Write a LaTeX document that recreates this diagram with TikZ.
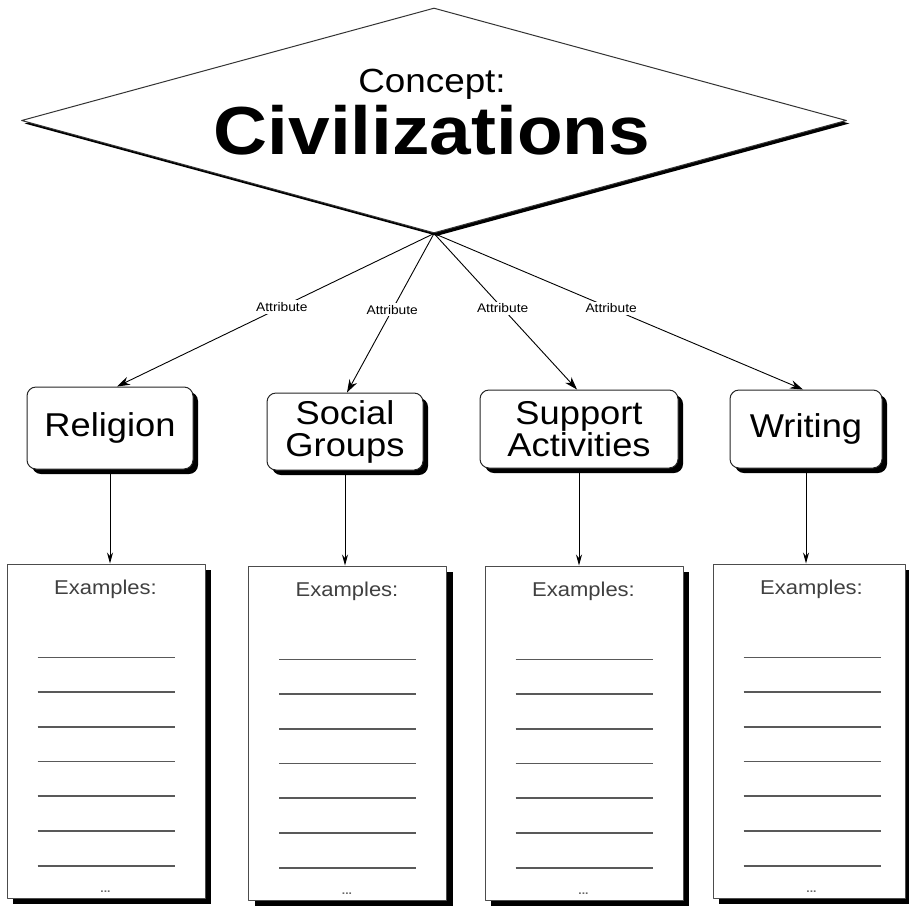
\documentclass[tikz,border=0pt]{standalone}
\usepackage{fontspec}
\setmainfont{Liberation Sans}[FakeStretch=1.1]
\usetikzlibrary{shapes.geometric,shadows,arrows.meta}

\begin{document}
\begin{tikzpicture}[x=1pt,y=-1pt,line join=round,>={Stealth[length=13pt,width=8.5pt]}]
	\tikzset{
		topic/.style={draw=black!85,line width=1pt,fill=white,rounded corners=9pt,inner sep=0pt,align=center,
			font=\fontsize{33}{32}\selectfont,drop shadow={shadow xshift=5pt,shadow yshift=-5pt,opacity=1,fill=black}},
		sheet/.style={draw=black!70,line width=1pt,fill=white,minimum width=198pt,minimum height=334pt,inner sep=0pt,
			drop shadow={shadow xshift=6pt,shadow yshift=-6pt,opacity=1,fill=black}},
		attr/.style={fill=white,inner sep=2pt,font=\fontsize{12.5}{13}\selectfont},
		rule/.style={black!65,line width=1.7pt}}
	\useasboundingbox (0,0) rectangle (909,905);
	% the concept
	\node[diamond,draw=black!80,line width=1pt,fill=white,minimum width=825pt,minimum height=225pt,inner sep=0pt,
		drop shadow={shadow xshift=3pt,shadow yshift=-3pt,opacity=1,fill=black}] (concept) at (434,120.5) {};
	\node[font=\fontsize{33.5}{34}\selectfont,anchor=base] (concept-head) at (432,92) {Concept:};
	\node[font=\fontsize{68}{68}\selectfont\bfseries,anchor=base] (concept-name) at (432,154) {Civilizations};
	% attributes
	\node[topic,minimum width=166pt,minimum height=82pt] (religion) at (110,428) {Religion};
	\node[topic,minimum width=156pt,minimum height=77pt] (social) at (345,431.5) {Social\\Groups};
	\node[topic,minimum width=198pt,minimum height=78pt] (support) at (579,429) {Support\\Activities};
	\node[topic,minimum width=152pt,minimum height=78pt] (writing) at (806,429) {Writing};
	% example sheets
	\node[sheet] (ex1) at (106,731) {};
	\node[sheet] (ex2) at (347.5,733) {};
	\node[sheet] (ex3) at (584,733) {};
	\node[sheet,minimum width=192pt] (ex4) at (809,731) {};
	\foreach \n in {ex1,ex2,ex3,ex4}{
		\node[font=\fontsize{20}{20}\selectfont,text=black!75,anchor=base] (\n-title) at ([shift={(99,31)}]\n.north west) {Examples:};
		\foreach \k in {0,...,6}
		\draw[rule] ([shift={(31,{94+34.7*\k})}]\n.north west) -- ++(137,0);
		\node[font=\fontsize{11}{11}\selectfont\bfseries,text=black!60] (\n-dots) at ([shift={(99,-7)}]\n.south west) {...};
	}
	\foreach \b/\dx in {religion/7,social/2,support/-2,writing/-3}
	\draw[->,line width=0.9pt] (concept.south) -- node[attr,pos=0.48] (\b-attr) {Attribute} ([xshift=\dx pt]\b.north);
	\foreach \b/\n in {religion/ex1,social/ex2,support/ex3,writing/ex4}
	\draw[->,line width=0.9pt,>={Stealth[length=11pt,width=6pt]}] (\b.south) -- (\b.south |- \n.north);
\end{tikzpicture}
\end{document}
